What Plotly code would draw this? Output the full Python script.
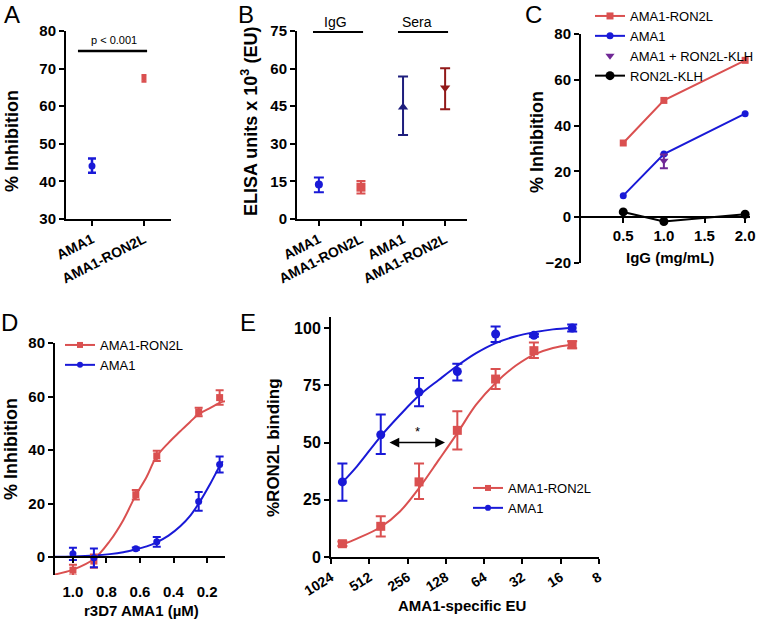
import math
import plotly.graph_objects as go

W, H = 768, 620
def X(px): return px / W
def Y(py): return 1 - py / H

RED = 'rgb(218,80,80)'
BLUE = 'rgb(25,25,215)'
NAVY = 'rgb(30,30,125)'
DKRED = 'rgb(145,25,25)'
PURPLE = 'rgb(112,40,150)'
FONT = 'Liberation Sans, Arial, sans-serif'

# ---------------- Panel A ----------------
a_groups = ["AMA1", "AMA1-RON2L"]
a_mean = [44.1, 67.4]
a_plus = [2.0, 0.9]
a_minus = [1.8, 0.9]

# ---------------- Panel B ----------------
b_labels = ["AMA1", "AMA1-RON2L", "AMA1", "AMA1-RON2L"]
b_mean = [13.8, 12.7, 44.6, 52.4]
b_plus = [2.8, 2.5, 12.2, 7.7]
b_minus = [3.1, 2.5, 11.1, 8.6]

# ---------------- Panel C ----------------
c_dose = [0.5, 1.0, 2.0]
c_fusion = [32.4, 51.0, 68.5]
c_ama1 = [9.4, 27.6, 45.2]
c_mix_dose = [1.0]
c_mix = [24.6]
c_mix_plus = [2.8]
c_mix_minus = [3.2]
c_klh = [2.3, -1.9, 1.3]
c_ticks = [0.5, 1.0, 1.5, 2.0]

# ---------------- Panel D ----------------
d_conc = [1.0, 0.875, 0.625, 0.5, 0.25, 0.125]
d_fusion = [-4.9, -1.5, 23.3, 37.8, 54.2, 59.6]
d_fusion_err = [2.0, 2.5, 1.8, 1.9, 1.6, 2.7]
d_ama1 = [1.2, -0.3, 3.1, 5.7, 20.8, 34.6]
d_ama1_err = [2.3, 3.5, 0.5, 1.8, 3.5, 3.0]
# fitted curves
d_fit_red_x = [1.107, 1.0, 0.873, 0.78, 0.70, 0.63, 0.56, 0.504, 0.43, 0.36, 0.30, 0.248, 0.18, 0.122, 0.093]
d_fit_red_y = [-6.5, -4.7, -0.6, 6.0, 13.8, 22.5, 30.0, 37.3, 42.7, 47.0, 50.6, 53.5, 55.8, 57.7, 58.2]
d_fit_blue_x = [1.107, 1.0, 0.873, 0.78, 0.70, 0.63, 0.56, 0.504, 0.43, 0.36, 0.30, 0.248, 0.18, 0.122, 0.106]
d_fit_blue_y = [0.1, 0.25, 0.6, 1.1, 1.8, 2.8, 4.0, 5.4, 8.0, 11.5, 15.5, 20.2, 27.5, 34.3, 35.8]
d_ticks = [1.0, 0.8, 0.6, 0.4, 0.2]

# ---------------- Panel E ----------------
e_eu = [833, 416, 208, 104, 52, 26, 13]
e_ama1 = [32.8, 53.4, 72.0, 81.0, 97.4, 96.8, 100.0]
e_ama1_plus = [8.0, 8.8, 6.2, 3.4, 3.3, 0.6, 1.5]
e_ama1_minus = [8.2, 8.4, 6.2, 3.9, 3.5, 0.6, 1.5]
e_fusion = [5.8, 13.4, 32.8, 55.3, 77.7, 90.1, 92.7]
e_fusion_plus = [1.0, 4.4, 8.0, 8.3, 4.4, 3.6, 1.5]
e_fusion_minus = [1.0, 4.4, 7.5, 8.4, 4.3, 3.2, 1.5]
e_fit_x = [833, 640, 416, 294, 208, 145, 104, 74, 52, 36, 26, 18.4, 13]
e_fit_ama1 = [32.6, 39.6, 52.7, 62.0, 70.5, 77.4, 83.5, 89.0, 93.4, 96.4, 98.1, 99.4, 100.0]
e_fit_fusion = [5.4, 8.0, 13.1, 19.9, 30.1, 42.5, 54.1, 66.5, 76.0, 83.6, 88.4, 91.3, 92.7]
e_ticks = [1024, 512, 256, 128, 64, 32, 16, 8]

fig = go.Figure()

def eb(plus, minus, color, width=4, thick=2):
    return dict(type='data', array=plus, arrayminus=minus, color=color,
                thickness=thick, width=width, visible=True)

# A
fig.add_trace(go.Scatter(x=[0], y=[a_mean[0]], mode='markers', xaxis='x', yaxis='y',
    marker=dict(symbol='circle', size=7, color=BLUE),
    error_y=eb([a_plus[0]], [a_minus[0]], BLUE, 4, 2.5), showlegend=False))
fig.add_trace(go.Scatter(x=[1], y=[a_mean[1]], mode='markers', xaxis='x', yaxis='y',
    marker=dict(symbol='square', size=5, color=RED),
    error_y=eb([a_plus[1]], [a_minus[1]], RED, 2.5, 2), showlegend=False))

# B
b_sym = ['circle', 'square', 'triangle-up', 'triangle-down']
b_col = [BLUE, RED, NAVY, DKRED]
b_size = [8, 9, 9, 9]
for i in range(4):
    fig.add_trace(go.Scatter(x=[i], y=[b_mean[i]], mode='markers', xaxis='x2', yaxis='y2',
        marker=dict(symbol=b_sym[i], size=b_size[i], color=b_col[i]),
        error_y=eb([b_plus[i]], [b_minus[i]], b_col[i], 5 if i != 1 else 4.5, 2),
        showlegend=False))

# C
fig.add_trace(go.Scatter(x=c_dose, y=c_fusion, mode='lines+markers', xaxis='x3', yaxis='y3',
    name='AMA1-RON2L', legend='legend',
    line=dict(color=RED, width=2), marker=dict(symbol='square', size=7, color=RED)))
fig.add_trace(go.Scatter(x=c_dose, y=c_ama1, mode='lines+markers', xaxis='x3', yaxis='y3',
    name='AMA1', legend='legend',
    line=dict(color=BLUE, width=2), marker=dict(symbol='circle', size=7, color=BLUE)))
fig.add_trace(go.Scatter(x=c_mix_dose, y=c_mix, mode='markers', xaxis='x3', yaxis='y3',
    name='AMA1 + RON2L-KLH', legend='legend',
    marker=dict(symbol='triangle-down', size=8, color=PURPLE),
    error_y=eb(c_mix_plus, c_mix_minus, PURPLE, 4, 2)))
fig.add_trace(go.Scatter(x=c_dose, y=c_klh, mode='lines+markers', xaxis='x3', yaxis='y3',
    name='RON2L-KLH', legend='legend',
    line=dict(color='black', width=2), marker=dict(symbol='circle', size=9, color='black')))

# D
fig.add_trace(go.Scatter(x=d_fit_red_x, y=d_fit_red_y, mode='lines', xaxis='x4', yaxis='y4',
    line=dict(color=RED, width=2, shape='spline'), showlegend=False))
fig.add_trace(go.Scatter(x=d_fit_blue_x, y=d_fit_blue_y, mode='lines', xaxis='x4', yaxis='y4',
    line=dict(color=BLUE, width=2, shape='spline'), showlegend=False))
fig.add_trace(go.Scatter(x=d_conc, y=d_fusion, mode='markers', xaxis='x4', yaxis='y4',
    marker=dict(symbol='square', size=7, color=RED),
    error_y=eb(d_fusion_err, d_fusion_err, RED, 4, 2), showlegend=False))
fig.add_trace(go.Scatter(x=d_conc, y=d_ama1, mode='markers', xaxis='x4', yaxis='y4',
    marker=dict(symbol='circle', size=7, color=BLUE),
    error_y=eb(d_ama1_err, d_ama1_err, BLUE, 4, 2), showlegend=False))
fig.add_trace(go.Scatter(x=[None], y=[None], mode='lines+markers', xaxis='x4', yaxis='y4',
    name='AMA1-RON2L', legend='legend2',
    line=dict(color=RED, width=2), marker=dict(symbol='square', size=6, color=RED)))
fig.add_trace(go.Scatter(x=[None], y=[None], mode='lines+markers', xaxis='x4', yaxis='y4',
    name='AMA1', legend='legend2',
    line=dict(color=BLUE, width=2), marker=dict(symbol='circle', size=6, color=BLUE)))

# E
fig.add_trace(go.Scatter(x=e_fit_x, y=e_fit_ama1, mode='lines', xaxis='x5', yaxis='y5',
    line=dict(color=BLUE, width=2, shape='spline'), showlegend=False))
fig.add_trace(go.Scatter(x=e_fit_x, y=e_fit_fusion, mode='lines', xaxis='x5', yaxis='y5',
    line=dict(color=RED, width=2, shape='spline'), showlegend=False))
fig.add_trace(go.Scatter(x=e_eu, y=e_ama1, mode='markers', xaxis='x5', yaxis='y5',
    marker=dict(symbol='circle', size=9, color=BLUE),
    error_y=eb(e_ama1_plus, e_ama1_minus, BLUE, 5, 2), showlegend=False))
fig.add_trace(go.Scatter(x=e_eu, y=e_fusion, mode='markers', xaxis='x5', yaxis='y5',
    marker=dict(symbol='square', size=9, color=RED),
    error_y=eb(e_fusion_plus, e_fusion_minus, RED, 5, 2), showlegend=False))
fig.add_trace(go.Scatter(x=[None], y=[None], mode='lines+markers', xaxis='x5', yaxis='y5',
    name='AMA1-RON2L', legend='legend3',
    line=dict(color=RED, width=2), marker=dict(symbol='square', size=6, color=RED)))
fig.add_trace(go.Scatter(x=[None], y=[None], mode='lines+markers', xaxis='x5', yaxis='y5',
    name='AMA1', legend='legend3',
    line=dict(color=BLUE, width=2), marker=dict(symbol='circle', size=6, color=BLUE)))

def ax(**kw):
    d = dict(showline=True, linecolor='black', linewidth=2, ticks='outside', ticklen=5,
             tickwidth=2, tickcolor='black', showgrid=False, zeroline=False, automargin=False,
             tickfont=dict(family=FONT, size=15, color='black', weight='bold'))
    d.update(kw)
    return d

tf14 = dict(family=FONT, size=14, color='black', weight='bold')
LEGFONT = dict(family=FONT, size=13, color='black')

fig.update_layout(
    width=W, height=H, margin=dict(l=0, r=0, t=0, b=0, autoexpand=False),
    paper_bgcolor='white', plot_bgcolor='white',
    # A
    xaxis=ax(domain=[X(66), X(171)], anchor='y', range=[-0.5, 1.52],
             tickvals=[0, 1], ticktext=a_groups, tickangle=-27, tickfont=tf14),
    yaxis=ax(domain=[Y(219), Y(31)], anchor='x', range=[30, 80], tickvals=[30, 40, 50, 60, 70, 80]),
    # B
    xaxis2=ax(domain=[X(297), X(467)], anchor='y2', range=[-0.52, 3.52],
              tickvals=[0, 1, 2, 3], ticktext=b_labels, tickangle=-27, tickfont=tf14),
    yaxis2=ax(domain=[Y(219), Y(31)], anchor='x2', range=[0, 75], tickvals=[0, 15, 30, 45, 60, 75]),
    # C
    xaxis3=ax(domain=[X(581), X(750)], anchor='free', position=Y(217), range=[-0.02, 2.06],
              tickvals=c_ticks, ticktext=['%.1f' % v for v in c_ticks]),
    yaxis3=ax(domain=[Y(263), Y(34)], anchor='x3', range=[-20, 80],
              tickvals=[-20, 0, 20, 40, 60, 80]),
    # D
    xaxis4=ax(domain=[X(55), X(225)], anchor='free', position=Y(557), range=[1.107, 0.093],
              tickvals=d_ticks, ticktext=['%.1f' % v for v in d_ticks], ticklabelstandoff=16),
    yaxis4=ax(domain=[Y(575), Y(343)], anchor='x4', range=[-6.7, 80],
              tickvals=[0, 20, 40, 60, 80]),
    # E
    xaxis5=ax(domain=[X(331), X(599)], anchor='y5', type='log',
              range=[math.log10(1024), math.log10(8)],
              tickvals=e_ticks, ticktext=[str(v) for v in e_ticks], tickangle=-32, tickfont=tf14),
    yaxis5=ax(domain=[Y(557), Y(317)], anchor='x5', range=[0, 104.8],
              tickvals=[0, 25, 50, 75, 100],
              tickfont=dict(family=FONT, size=16, color='black', weight='bold')),
    legend=dict(x=X(590), y=Y(1), xanchor='left', yanchor='top', bgcolor='rgba(0,0,0,0)',
                font=LEGFONT, tracegroupgap=0),
    legend2=dict(x=X(60), y=Y(330), xanchor='left', yanchor='top', bgcolor='rgba(0,0,0,0)',
                 font=LEGFONT, tracegroupgap=0),
    legend3=dict(x=X(468), y=Y(473), xanchor='left', yanchor='top', bgcolor='rgba(0,0,0,0)',
                 font=LEGFONT, tracegroupgap=0),
)

shapes = []
annotations = []
# Panel A significance bar
shapes.append(dict(type='line', xref='x', yref='y', x0=-0.27, x1=1.06, y0=74.7, y1=74.7,
                   line=dict(color='black', width=2.5)))
annotations.append(dict(xref='x', yref='y', x=0.42, y=75.6, text='p < 0.001', showarrow=False,
                        yanchor='bottom', font=dict(family=FONT, size=11, color='black')))
# Panel B group bars
shapes.append(dict(type='line', xref='x2', yref='y2', x0=-0.14, x1=1.05, y0=74.6, y1=74.6,
                   line=dict(color='black', width=2)))
shapes.append(dict(type='line', xref='x2', yref='y2', x0=1.88, x1=3.07, y0=74.6, y1=74.6,
                   line=dict(color='black', width=2)))
annotations.append(dict(xref='paper', yref='paper', x=X(335), y=Y(22), text='IgG', showarrow=False,
                        yanchor='middle', font=dict(family=FONT, size=14, color='black')))
annotations.append(dict(xref='paper', yref='paper', x=X(417), y=Y(22), text='Sera', showarrow=False,
                        yanchor='middle', font=dict(family=FONT, size=14, color='black')))
# Panel E arrow
annotations.append(dict(xref='x5', yref='y5', axref='x5', ayref='y5',
                        x=math.log10(130), y=50, ax=math.log10(365), ay=50, text='',
                        showarrow=True, arrowhead=2, startarrowhead=2, arrowside='end+start',
                        arrowsize=1.3, arrowwidth=1.5, arrowcolor='black'))
annotations.append(dict(xref='x5', yref='y5', x=math.log10(215), y=50.5, text='*',
                        showarrow=False, yanchor='bottom',
                        font=dict(family=FONT, size=13, color='black')))

def title(text, px, py, size=17, angle=0):
    annotations.append(dict(xref='paper', yref='paper', x=X(px), y=Y(py), text=text,
                            showarrow=False, xanchor='center', yanchor='middle', textangle=angle,
                            font=dict(family=FONT, size=size, color='black', weight='bold')))

title('% Inhibition', 12, 141, 18, -90)
title('ELISA units x 10<sup>3</sup> (EU)', 249, 122, 18, -90)
title('% Inhibition', 537, 142, 18, -90)
title('IgG (mg/mL)', 670, 257, 15)
title('% Inhibition', 11, 449, 18, -90)
title('r3D7 AMA1 (µM)', 141, 610, 15)
title('%RON2L binding', 273, 448, 17, -90)
title('AMA1-specific EU', 462, 605, 15)

for letter, px, py in [('A', 12, 14), ('B', 246, 14), ('C', 533, 14), ('D', 9, 322), ('E', 248, 322)]:
    annotations.append(dict(xref='paper', yref='paper', x=X(px), y=Y(py), text=letter,
                            showarrow=False, xanchor='center', yanchor='middle',
                            font=dict(family=FONT, size=24, color='black')))

fig.update_layout(shapes=shapes, annotations=annotations)
fig.write_html('out.html', config={'displayModeBar': False, 'staticPlot': True},
               post_script="document.body.style.margin='0px';document.body.style.overflow='hidden';")
